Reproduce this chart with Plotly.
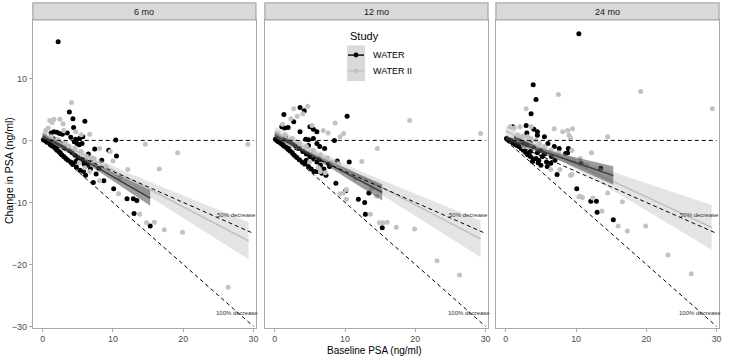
import plotly.graph_objects as go

W, H = 729, 360

PANELS = ["6 mo", "12 mo", "24 mo"]
X_TICKS = [0, 10, 20, 30]
Y_TICKS = [-30, -20, -10, 0, 10]
STUDIES = ["WATER", "WATER II"]

# (baseline PSA, change in PSA) pairs
water_6mo = [(2.2,15.9),(3.8,4.6),(4.3,3.5),(6.0,3.1),(4.4,2.1),(3.5,1.2),(2.0,1.3),(2.4,1.1),(1.6,1.4),(1.2,1.2),(2.8,1.0),(4.0,0.5),
    (10.4,0.05),(10.5,-2.5),(9.4,-1.6),(7.4,-1.4),(8.4,-3.2),(7.6,-5.4),(7.2,-6.8),(8.7,-6.5),(10.1,-7.8),(12.0,-9.4),(12.9,-9.4),
    (13.4,-9.7),(13.0,-11.8),(15.3,-13.8),(4.5,-0.2),(4.9,-0.5),(5.2,-0.7),(5.6,-0.5),(5.3,0.4),(5.7,0.6),(4.7,0.2),
    (0.1,0.1),(0.3,0.0),(0.5,-0.1),(0.6,-0.3),(0.8,-0.2),(1.0,-0.5),(1.1,-0.7),(1.3,-0.8),(1.5,-1.0),(1.7,-1.1),(1.9,-1.3),(2.1,-1.6),
    (2.3,-1.8),(2.5,-2.0),(2.7,-2.3),(3.0,-2.6),(3.3,-2.9),(3.6,-3.2),(4.0,-3.5),(4.3,-3.9),(4.8,-4.3),(5.3,-4.8),(5.8,-5.0),(6.1,-5.6),
    (1.5,0.3),(2.0,-0.2),(2.5,-0.5),(3.0,-0.8),(3.4,-1.2),(3.8,-1.6),(4.2,-2.0),(4.6,-2.4),(5.0,-2.8),(5.5,-3.2),(6.0,-3.6),(6.4,-4.0),
    (7.0,-3.0),(6.5,-2.2),(8.0,-4.5),(6.8,-4.6),(4.7,-3.4),(5.9,-3.8)]
water2_6mo = [(4.1,6.1),(1.0,3.2),(1.35,2.9),(1.6,3.4),(2.45,3.4),(2.9,2.7),(6.7,1.0),(4.7,1.4),(0.5,1.7),(0.8,2.0),
    (14.6,-0.6),(19.2,-2.0),(29.2,-0.6),(16.6,-4.6),(12.1,-4.7),(9.6,-1.8),(10.0,-3.3),(8.1,-6.5),(10.8,-8.6),(13.8,-11.9),
    (14.8,-13.3),(15.9,-13.2),(17.3,-14.4),(19.9,-14.8),(26.4,-23.7),(6.7,-5.0),(0.3,0.9),(1.2,0.6),(2.2,0.2),(3.2,-0.3),
    (3.7,-0.9),(4.6,-1.3),(5.5,-1.8),(6.2,-2.6),(7.0,-2.8),(7.5,-3.8),(5.2,-3.6),(6.0,-4.4),(3.0,1.6),(5.5,0.9),(8.1,-1.3),
    (7.3,-2.9),(9.0,-4.2),(11.0,-6.0)]

water_12mo = [(10.3,3.9),(8.5,0.0),(10.6,-3.5),(1.3,4.2),(3.6,5.3),(4.2,4.8),(2.7,3.0),(1.0,2.2),(1.4,2.0),(1.9,2.1),(5.0,2.2),
    (5.5,1.8),(6.0,1.4),(3.6,1.4),(4.4,0.2),(4.8,0.1),(6.4,-1.0),(7.1,-1.3),(8.9,-3.3),(7.7,-3.8),(6.3,-3.1),(7.3,-5.6),(8.7,-6.9),
    (10.1,-8.1),(11.9,-9.5),(12.8,-10.0),(13.4,-8.5),(12.9,-11.9),(15.3,-14.1),(6.0,-5.0),(6.7,-5.3),
    (0.1,0.2),(0.3,0.0),(0.5,-0.2),(0.7,-0.3),(0.9,-0.5),(1.1,-0.6),(1.3,-0.9),(1.6,-1.1),(1.9,-1.4),(2.2,-1.7),(2.5,-2.0),
    (2.8,-2.4),(3.1,-2.7),(3.5,-3.1),(3.9,-3.5),(4.3,-3.8),(4.8,-4.2),(5.2,-4.6),(5.6,-5.0),
    (1.5,0.5),(2.0,0.0),(2.6,-0.4),(3.0,-0.9),(3.5,-1.3),(4.0,-1.8),(4.5,-2.2),(5.0,-2.6),(5.4,-3.0),(6.0,-3.5),(6.5,-4.0),
    (7.0,-4.6),(5.5,0.3),(6.0,-0.5),(4.8,-0.8),(4.5,-3.2),(7.8,-4.2)]
water2_12mo = [(19.2,3.2),(29.3,1.1),(14.6,-1.3),(12.4,-3.4),(9.1,-3.8),(10.2,-7.9),(9.3,-8.6),(10.2,-9.5),(13.6,-11.9),(14.9,-13.3),
    (15.4,-13.3),(16.0,-13.2),(17.3,-14.0),(19.9,-14.3),(23.1,-19.4),(26.3,-21.7),(13.8,-7.7),(14.5,-9.0),(9.8,-8.5),
    (2.7,5.1),(3.2,3.9),(4.7,5.5),(4.0,4.3),(2.3,3.5),(1.1,2.6),(5.3,2.4),(6.9,1.6),(7.6,1.2),(8.6,2.8),(9.3,0.6),(9.8,1.1),
    (0.4,1.2),(1.5,0.9),(2.5,0.3),(3.5,-0.4),(4.5,-1.0),(5.5,-1.6),(6.5,-2.3),(7.5,-2.8),(8.2,-3.5),(5.0,-3.4),(6.2,-4.4),
    (7.2,-5.2),(6.5,-5.0),(11.5,-6.2)]

water_24mo = [(10.4,17.2),(3.9,9.0),(4.3,6.6),(3.6,4.3),(2.9,2.4),(4.5,1.4),(4.0,1.8),(4.5,0.85),(5.5,0.6),(1.0,2.2),(6.0,-0.5),
    (6.9,-1.0),(7.6,-1.3),(8.5,-2.1),(8.9,-1.3),(8.8,-2.0),(10.7,-3.7),(13.5,-4.5),(7.3,-5.5),(10.1,-7.8),(12.1,-9.8),(12.9,-9.8),
    (13.0,-11.6),(15.3,-12.8),(5.9,-4.2),(3.8,-3.4),(4.6,-3.6),(5.8,-3.5),(6.4,-3.7),
    (0.1,0.3),(0.3,0.1),(0.5,-0.1),(0.7,0.0),(0.9,-0.3),(1.1,-0.4),(1.3,-0.6),(1.6,-0.8),(1.9,-1.0),(2.2,-1.3),(2.5,-1.6),
    (2.8,-1.9),(3.1,-2.3),(3.5,-2.6),(3.9,-3.0),(4.3,-2.9),(4.7,-3.2),(5.2,-2.6),
    (1.5,0.5),(2.0,0.2),(2.5,-0.3),(3.0,-0.6),(3.5,-0.4),(4.0,-1.0),(5.0,-1.6),(5.5,-2.2),(6.5,-2.6),(7.0,-3.2),(4.5,-2.0),
    (5.0,-4.0),(3.5,-1.8),(3.0,1.2)]
water2_24mo = [(7.5,7.4),(19.2,7.9),(29.4,5.1),(2.9,5.1),(14.5,0.6),(12.2,-2.0),(6.9,1.9),(8.1,1.4),(8.8,1.6),(9.5,1.9),(9.0,0.85),
    (9.2,0.4),(9.4,-1.6),(0.6,2.2),(2.0,2.2),(1.2,2.0),(3.6,2.2),(10.4,-9.1),(10.9,-9.2),(12.4,-9.3),(13.7,-11.4),(16.0,-13.8),
    (17.3,-14.6),(19.9,-13.8),(16.6,-9.9),(14.5,-8.5),(23.1,-18.5),(26.4,-21.5),(10.6,-9.0),
    (1.7,0.85),(2.4,0.7),(3.1,0.6),(3.6,0.3),(4.3,0.05),(8.9,-3.1),(9.2,-5.6),(6.4,-4.7),(7.7,-4.7),(9.7,-3.4),(10.6,-2.9),
    (9.4,-5.5),(5.5,-1.0),(6.5,-1.5),(7.5,-2.0),(4.8,-0.5),(2.5,-1.0),(11.5,-4.0)]

water_points = [water_6mo, water_12mo, water_24mo]
water2_points = [water2_6mo, water2_12mo, water2_24mo]

# fitted linear trends and 95% band half-widths
water_fit_x = [0, 4, 8, 12, 15.3]
water_intercept = [0.7, 0.8, 0.3]
water_slope = [-0.654, -0.60, -0.39]
water_ci_half = [[0.45, 0.35, 0.5, 0.9, 1.25], [0.5, 0.35, 0.5, 0.9, 1.3], [0.5, 0.4, 0.6, 1.1, 1.5]]

water2_fit_x = [0, 6, 12, 20, 29.3]
water2_intercept = [1.1, 1.4, 1.5]
water2_slope = [-0.59, -0.59, -0.53]
water2_ci_half = [[0.7, 0.5, 0.8, 1.8, 3.0], [0.8, 0.55, 0.8, 1.8, 2.95], [0.8, 0.6, 1.0, 2.2, 3.6]]

# reference lines: no change, 50% decrease, 100% decrease
ref_x = [0, 30]
ref_fraction = [0, 0.5, 1.0]
ref_labels = ["50% decrease", "100% decrease"]
ref_label_x = 27.6

FONT = "Liberation Sans, Arial, sans-serif"
BORDER = "#A9A9A9"
TICKTXT = "#4D4D4D"
WATER_COL = "#000000"
WATER2_COL = "#C2C2C2"

fig = go.Figure()

for i in range(3):
    xa = "x" if i == 0 else f"x{i+1}"
    ya = "y" if i == 0 else f"y{i+1}"
    for pts, col in [(water_points[i], WATER_COL), (water2_points[i], WATER2_COL)]:
        fig.add_trace(go.Scatter(x=[p[0] for p in pts], y=[p[1] for p in pts], mode="markers",
                                 marker=dict(color=col, size=5, line=dict(width=0)),
                                 xaxis=xa, yaxis=ya, showlegend=False, hoverinfo="skip"))
    for fx, a, b, half, fill, lcol in [
        (water2_fit_x, water2_intercept[i], water2_slope[i], water2_ci_half[i], "rgba(190,190,190,0.42)", "#BDBDBD"),
        (water_fit_x, water_intercept[i], water_slope[i], water_ci_half[i], "rgba(60,60,60,0.5)", "#3A3A3A"),
    ]:
        fy = [a + b * x for x in fx]
        hi = [y + h for y, h in zip(fy, half)]
        lo = [y - h for y, h in zip(fy, half)]
        fig.add_trace(go.Scatter(x=fx + fx[::-1], y=hi + lo[::-1], fill="toself", fillcolor=fill,
                                 mode="lines", line=dict(width=0), xaxis=xa, yaxis=ya,
                                 showlegend=False, hoverinfo="skip"))
        fig.add_trace(go.Scatter(x=fx, y=fy, mode="lines", line=dict(color=lcol, width=1.4),
                                 xaxis=xa, yaxis=ya, showlegend=False, hoverinfo="skip"))
    for fr in ref_fraction:
        fig.add_trace(go.Scatter(x=ref_x, y=[-fr * x for x in ref_x], mode="lines",
                                 line=dict(color="black", width=1, dash="4px,3px"),
                                 xaxis=xa, yaxis=ya, showlegend=False, hoverinfo="skip"))
    for lab, fr in zip(ref_labels, ref_fraction[1:]):
        fig.add_annotation(x=ref_label_x, y=-fr * ref_label_x + (1.8 if fr < 1 else -0.3),
                           xref=xa, yref=ya, text=lab, showarrow=False,
                           xanchor="center", yanchor="middle",
                           font=dict(family=FONT, size=6, color="#333"))

panel_px = [(33, 257), (266, 490), (498, 722)]
y_bot, y_top, strip_top = 331.7, 20, 3
ydom = [1 - y_bot / H, 1 - y_top / H]

layout = dict(width=W, height=H, margin=dict(l=0, r=0, t=0, b=0),
              plot_bgcolor="white", paper_bgcolor="white", showlegend=False,
              font=dict(family=FONT, color="black"))
for i, (a, b) in enumerate(panel_px):
    sfx = "" if i == 0 else str(i + 1)
    layout["xaxis" + sfx] = dict(domain=[a / W, b / W], range=[-1.4, 30.35], tickvals=X_TICKS,
                                 ticks="outside", ticklen=2.5, tickcolor=BORDER, tickwidth=1,
                                 showline=True, mirror=True, linecolor=BORDER, linewidth=1.3,
                                 showgrid=False, zeroline=False,
                                 tickfont=dict(family=FONT, size=8.8, color=TICKTXT),
                                 anchor="y" + sfx)
    layout["yaxis" + sfx] = dict(domain=ydom, range=[-30.26, 19.46], tickvals=Y_TICKS,
                                 ticks="outside" if i == 0 else "", ticklen=3, tickcolor=BORDER,
                                 showticklabels=(i == 0),
                                 showline=True, mirror=True, linecolor=BORDER, linewidth=1.3,
                                 showgrid=False, zeroline=False,
                                 tickfont=dict(family=FONT, size=9, color=TICKTXT),
                                 anchor="x" + sfx)
fig.update_layout(**layout)

shapes = []
annots = []


def label(x, y, text, size, color="black", xanchor="center", angle=0):
    return dict(x=x / W, y=1 - y / H, xref="paper", yref="paper", text=text, showarrow=False,
                xanchor=xanchor, yanchor="middle", textangle=angle,
                font=dict(family=FONT, size=size, color=color))


for i, (a, b) in enumerate(panel_px):
    shapes.append(dict(type="rect", xref="paper", yref="paper", x0=a / W, x1=b / W,
                       y0=1 - y_top / H, y1=1 - strip_top / H,
                       fillcolor="#D9D9D9", line=dict(color=BORDER, width=1.3), layer="above"))
    annots.append(label((a + b) / 2, 11.7, PANELS[i], 9, "#1A1A1A"))

annots.append(label(376, 354.5, "Baseline PSA (ng/ml)", 10))
annots.append(label(9, 172, "Change in PSA (ng/ml)", 10.5, angle=-90))

annots.append(label(349, 36, "Study", 11, xanchor="left"))
shapes.append(dict(type="rect", xref="paper", yref="paper", x0=348.5 / W, x1=366.5 / W,
                   y0=1 - 82 / H, y1=1 - 46 / H, fillcolor="#D9D9D9", line=dict(width=0)))
for name, col, py in zip(STUDIES, [WATER_COL, WATER2_COL], [55.7, 71.7]):
    shapes.append(dict(type="line", xref="paper", yref="paper", x0=349.5 / W, x1=365.5 / W,
                       y0=1 - py / H, y1=1 - py / H, line=dict(color=col, width=1.4)))
    shapes.append(dict(type="circle", xref="paper", yref="paper", x0=355 / W, x1=360 / W,
                       y0=1 - (py + 2.5) / H, y1=1 - (py - 2.5) / H, fillcolor=col, line=dict(width=0)))
    annots.append(label(372.5, py, name, 9, xanchor="left"))

fig.update_layout(shapes=shapes, annotations=list(fig.layout.annotations) + annots)
fig.write_html("out.html", config={"displayModeBar": False},
               post_script="document.body.style.margin='0';document.body.style.overflow='hidden';")
